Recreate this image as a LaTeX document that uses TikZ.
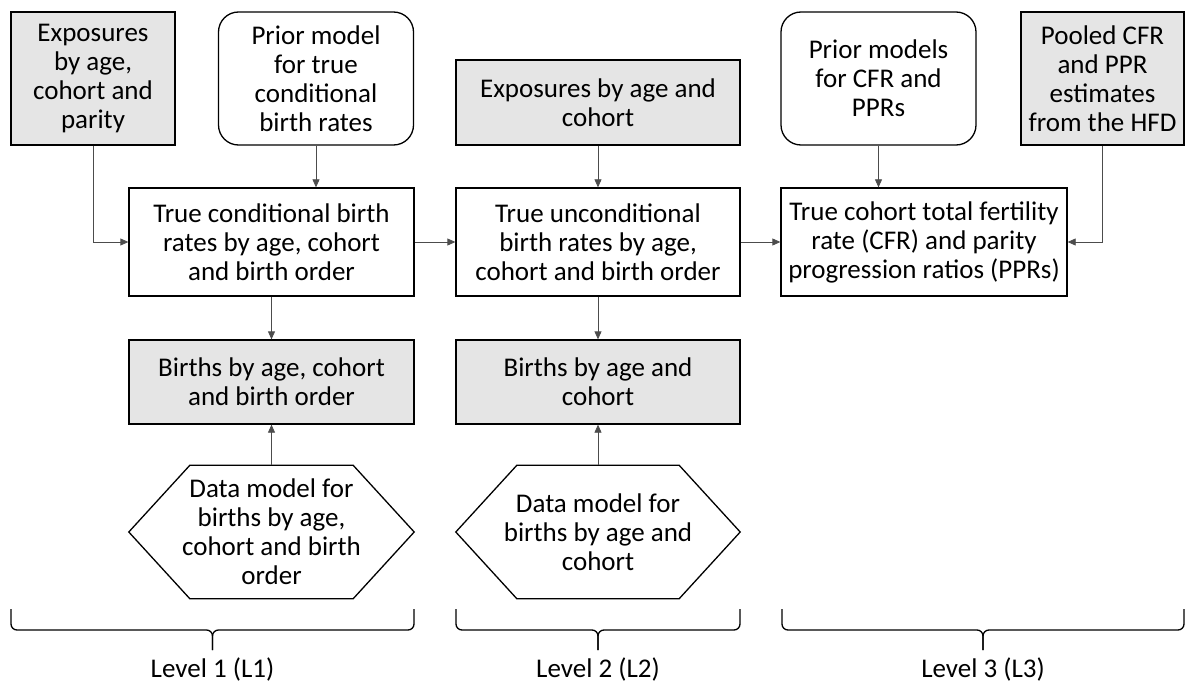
\documentclass[tikz,border=0pt]{standalone}
\usepackage{fontspec}
\setmainfont{Carlito}
\usetikzlibrary{arrows.meta,positioning}
\begin{document}
\begin{tikzpicture}[x=1pt,y=-1pt,%
    every node/.style={font=\fontsize{27}{29}\selectfont,align=center,inner sep=0pt},%
    box/.style={draw=black,line width=1.3pt,minimum width=285pt,minimum height=108pt},%
    gbox/.style={box,fill=black!10},%
    prior/.style={box,rounded corners=20pt,minimum width=195pt,minimum height=133pt},%
    hexa/.style={minimum width=285pt,minimum height=133pt},%
    conn/.style={draw=black!70,line width=0.8pt,-{Triangle[length=8pt,width=7pt]}},%
    brace/.style={line width=1.3pt,rounded corners=6pt}]
  \useasboundingbox (0,0) rectangle (1192,690);
  % level 1
  \node[gbox,minimum width=164pt,minimum height=133pt] (expA) at (93,78.5)
  {Exposures\\by age,\\cohort and\\parity};
  \node[prior] (priorA) at (316,78.5) {Prior model\\for true\\conditional\\birth rates};
  \node[box] (trueA) at (271.5,242) {True conditional birth\\rates by age, cohort\\and birth order};
  \node[gbox,minimum height=84pt] (birA) at (271.5,382) {Births by age, cohort\\and birth order};
  \node[hexa] (hexA) at (271.5,532) {Data model for\\births by age,\\cohort and birth\\order};
  % level 2
  \node[gbox,minimum width=284pt,minimum height=85pt] (expB) at (598,102.5)
  {Exposures by age and\\cohort};
  \node[box,minimum width=284pt] (trueB) at (598,242) {True unconditional\\birth rates by age,\\cohort and birth order};
  \node[gbox,minimum width=284pt,minimum height=84pt] (birB) at (598,382) {Births by age and\\cohort};
  \node[hexa,minimum width=284pt] (hexB) at (598,532) {Data model for\\births by age and\\cohort};
  % level 3
  \node[prior] (priorC) at (878.5,78.5) {Prior models\\for CFR and\\PPRs};
  \node[gbox,minimum width=163pt,minimum height=133pt] (pooled) at (1102.5,78.5)
  {Pooled CFR\\and PPR\\estimates\\from the HFD};
  \node[box,minimum width=286pt] (trueC) at (924,242) {True cohort total fertility\\rate (CFR) and parity\\progression ratios (PPRs)};
  % hexagons
  \foreach \h in {hexA,hexB}
  \draw[line width=1.3pt] (\h.west) -- ([xshift=61pt]\h.north west) -- ([xshift=-61pt]\h.north east)
  -- (\h.east) -- ([xshift=-61pt]\h.south east) -- ([xshift=61pt]\h.south west) -- cycle;
  % arrows
  \draw[conn] (expA.south) |- (trueA.west);
  \draw[conn] (priorA.south) -- (priorA.south |- trueA.north);
  \draw[conn] (trueA.south) -- (birA.north);
  \draw[conn] (hexA.north) -- (birA.south);
  \draw[conn] (trueA.east) -- (trueB.west);
  \draw[conn] (expB.south) -- (trueB.north);
  \draw[conn] (trueB.south) -- (birB.north);
  \draw[conn] (hexB.north) -- (birB.south);
  \draw[conn] (trueB.east) -- (trueC.west);
  \draw[conn] (priorC.south) -- (priorC.south |- trueC.north);
  \draw[conn] (pooled.south) |- (trueC.east);
  % braces and levels
  \coordinate (tipA) at (212.5,650); \coordinate (tipB) at (598,650); \coordinate (tipC) at (983,650);
  \draw[brace] (11,609) -- (11,630) -- (tipA |- 0,630) -- (tipA);
  \draw[brace] (414,609) -- (414,630) -- (tipA |- 0,630) -- (tipA);
  \draw[brace] (456,609) -- (456,630) -- (tipB |- 0,630) -- (tipB);
  \draw[brace] (740,609) -- (740,630) -- (tipB |- 0,630) -- (tipB);
  \draw[brace] (782,609) -- (782,630) -- (tipC |- 0,630) -- (tipC);
  \draw[brace] (1184,609) -- (1184,630) -- (tipC |- 0,630) -- (tipC);
  \node[anchor=base] (lvA) at (212.5,677) {Level 1 (L1)};
  \node[anchor=base] (lvB) at (598,677) {Level 2 (L2)};
  \node[anchor=base] (lvC) at (983,677) {Level 3 (L3)};
\end{tikzpicture}
\end{document}
